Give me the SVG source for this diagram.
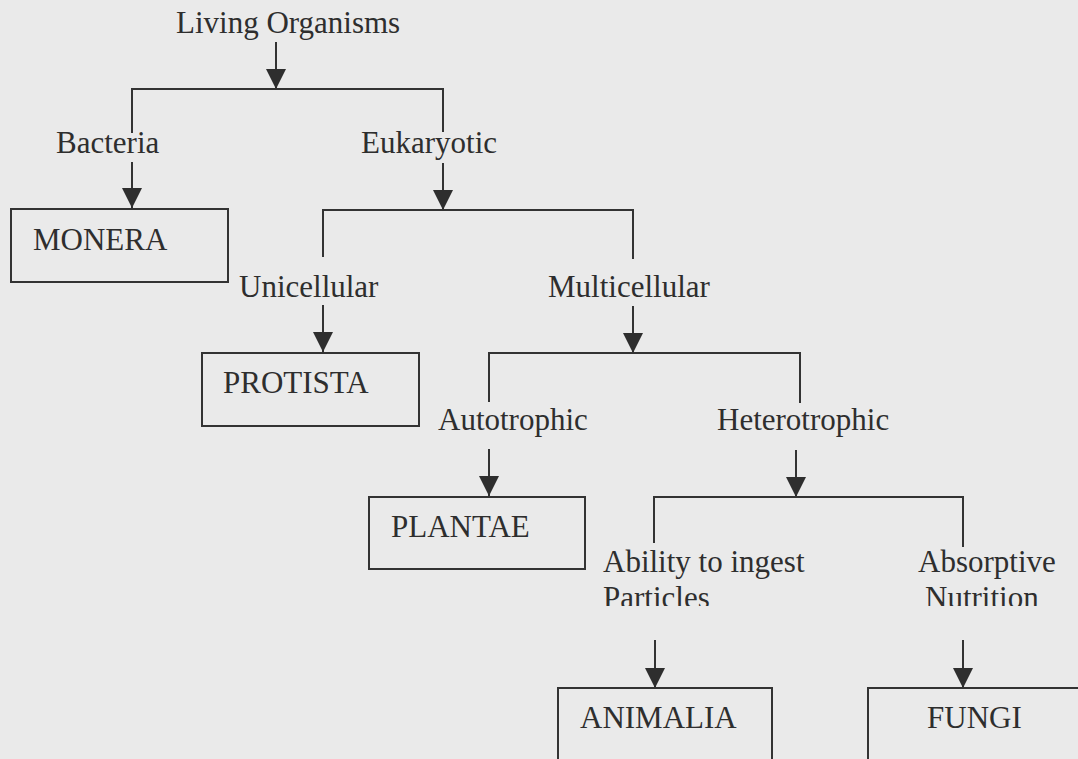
<svg xmlns="http://www.w3.org/2000/svg" width="1078" height="759" viewBox="0 0 1078 759">
<style>
text{font-family:"Liberation Serif","Times New Roman",serif;font-size:31px;fill:#2e2e2e}
.ln{fill:none;stroke:#333;stroke-width:2}
.box{fill:none;stroke:#333;stroke-width:2}
</style>
<defs>
<marker id="ah" markerUnits="userSpaceOnUse" markerWidth="20" markerHeight="20" refX="20" refY="10" orient="auto">
<path d="M0,0 L20,10 L0,20 z" fill="#2e2e2e"/>
</marker>
<clipPath id="cut"><rect x="0" y="0" width="1078" height="606"/></clipPath>
</defs>
<rect width="1078" height="759" fill="#eaeaea"/>
<g id="connectors">
<path class="ln" d="M276,42 V89" marker-end="url(#ah)"/>
<path class="ln" d="M132,133 V89 H443 V132"/>
<path class="ln" d="M132,162 V208" marker-end="url(#ah)"/>
<path class="ln" d="M443,163 V210" marker-end="url(#ah)"/>
<path class="ln" d="M323,257 V210 H633 V259"/>
<path class="ln" d="M323,305 V352" marker-end="url(#ah)"/>
<path class="ln" d="M633,306 V353" marker-end="url(#ah)"/>
<path class="ln" d="M489,402 V353 H800 V403"/>
<path class="ln" d="M489,449 V496" marker-end="url(#ah)"/>
<path class="ln" d="M796,450 V497" marker-end="url(#ah)"/>
<path class="ln" d="M654,543 V497 H963 V547"/>
<path class="ln" d="M655,640 V688" marker-end="url(#ah)"/>
<path class="ln" d="M963,640 V688" marker-end="url(#ah)"/>
</g>
<g id="living"><text x="176" y="33">Living Organisms</text></g>
<g id="bacteria"><text x="56" y="153">Bacteria</text></g>
<g id="eukaryotic"><text x="361" y="153">Eukaryotic</text></g>
<g id="monera"><rect class="box" x="11" y="209" width="217" height="73"/><text x="33" y="250">MONERA</text></g>
<g id="unicellular"><text x="239" y="297">Unicellular</text></g>
<g id="multicellular"><text x="548" y="297">Multicellular</text></g>
<g id="protista"><rect class="box" x="202" y="353" width="217" height="73"/><text x="223" y="393">PROTISTA</text></g>
<g id="autotrophic"><text x="438" y="430">Autotrophic</text></g>
<g id="heterotrophic"><text x="717" y="430">Heterotrophic</text></g>
<g id="plantae"><rect class="box" x="369" y="497" width="216" height="72"/><text x="391" y="537">PLANTAE</text></g>
<g id="ingest" clip-path="url(#cut)"><text x="603" y="572">Ability to ingest</text><text x="603" y="608">Particles</text></g>
<g id="absorptive" clip-path="url(#cut)"><text x="918" y="572">Absorptive</text><text x="925" y="608">Nutrition</text></g>
<g id="animalia"><rect class="box" x="558" y="688" width="214" height="100"/><text x="580" y="728">ANIMALIA</text></g>
<g id="fungi"><rect class="box" x="868" y="688" width="240" height="100"/><text x="927" y="728">FUNGI</text></g>
</svg>
